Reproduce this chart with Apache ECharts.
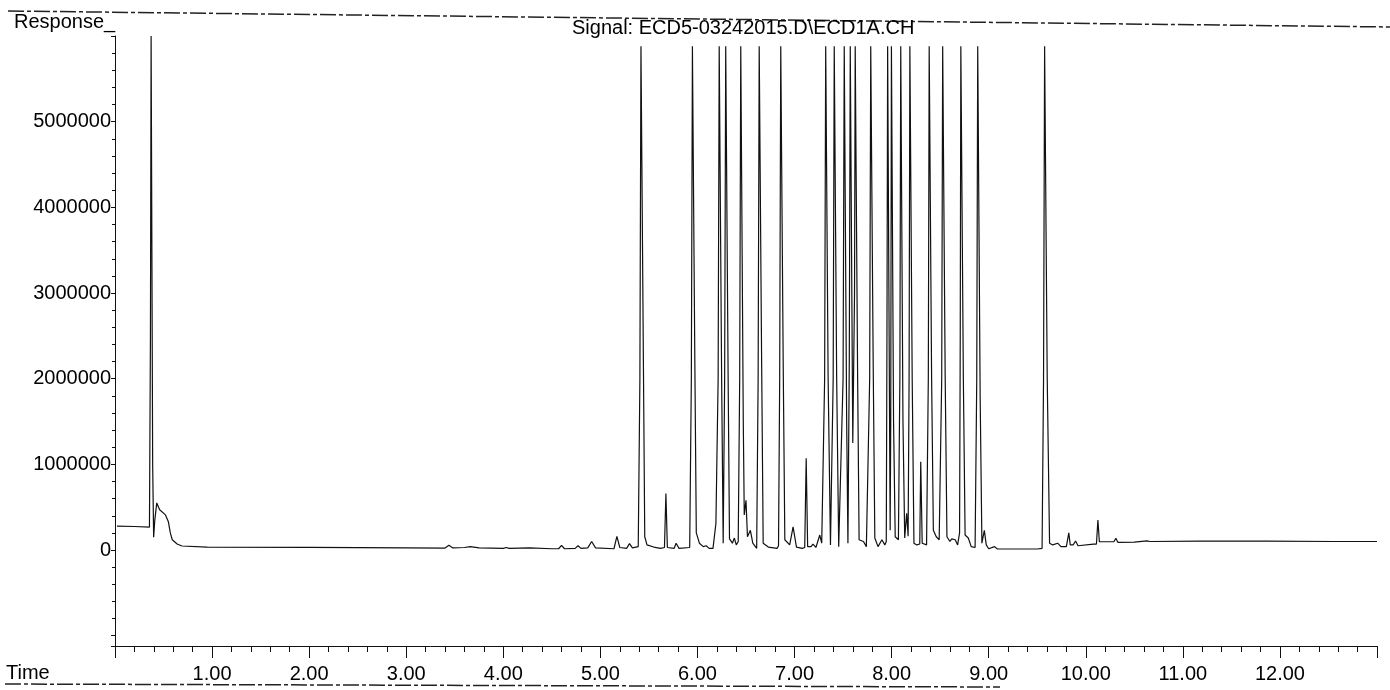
<!DOCTYPE html>
<html>
<head>
<meta charset="utf-8">
<script src="https://cdn.jsdelivr.net/npm/echarts@6/dist/echarts.min.js"></script>
<style>
html,body{margin:0;padding:0;background:#fff;}
#chart{width:1390px;height:690px;}
</style>
</head>
<body>
<div id="chart"></div>
<script>
// Retention time (min) / response pairs
var traceSolvent = [
  [0.02,280000],[0.20,275000],[0.355,268000],[0.365,2500000],[0.372,6000000],[0.379,6000000],
  [0.388,1000000],[0.398,150000],[0.41,350000],[0.43,550000],[0.46,470000],[0.52,410000],
  [0.55,330000],[0.57,200000],[0.59,120000],[0.64,70000],[0.69,47000],[0.95,35000],
  [2.00,30000],[3.00,25000],[3.40,23000],[3.44,55000],[3.48,25000],[3.60,30000],[3.66,40000],
  [3.75,25000],[4.00,20000],[4.03,30000],[4.06,20000],[4.27,25000],[4.50,15000],[4.57,15000],
  [4.60,55000],[4.63,15000],[4.74,20000],[4.77,50000],[4.80,20000],[4.87,25000],[4.91,100000],
  [4.95,25000],[5.14,15000],[5.17,160000],[5.20,30000],[5.27,20000],[5.30,75000],[5.33,25000],
  [5.39,40000]
];
var traceEarly = [
  [5.407,2000000],[5.418,5880000],[5.432,5880000],[5.443,2200000],[5.457,155000],[5.48,60000],
  [5.55,35000],[5.62,20000],[5.66,30000],[5.675,660000],[5.69,30000],[5.76,20000],[5.78,80000],
  [5.81,20000],[5.92,30000],
  [5.937,2000000],[5.948,5880000],[5.962,5880000],[5.973,2200000],[5.988,200000],[6.02,80000],
  [6.06,40000],[6.09,50000],[6.12,20000],[6.16,20000],[6.19,310000],
  [6.213,2000000],[6.224,5880000],[6.238,5880000],[6.249,2000000],[6.265,80000],
  [6.280,2000000],[6.291,5880000],[6.305,5880000],[6.316,2000000],[6.33,130000],[6.36,80000],
  [6.38,140000],[6.40,60000],[6.42,100000],
  [6.435,2000000],[6.446,5880000],[6.460,5880000],[6.472,1500000],[6.482,410000],[6.50,580000],
  [6.515,155000],[6.545,230000],[6.57,80000],[6.61,20000],
  [6.625,2000000],[6.636,5880000],[6.650,5880000],[6.661,2200000],[6.677,80000],[6.73,35000],
  [6.82,20000],[6.835,50000],
  [6.847,2000000],[6.858,5880000],[6.872,5880000],[6.883,2200000],[6.90,120000],[6.95,60000],
  [6.985,270000],[7.02,35000]
];
var traceMiddle = [
  [7.08,20000],[7.105,30000],[7.12,1070000],[7.135,40000],[7.17,40000],[7.19,70000],[7.22,30000],
  [7.26,175000],[7.28,80000],[7.297,90000],
  [7.310,2000000],[7.321,5880000],[7.335,5880000],[7.346,2000000],[7.37,60000],
  [7.398,2000000],[7.409,5880000],[7.423,5880000],[7.434,2000000],[7.455,40000],
  [7.500,2000000],[7.512,5880000],[7.526,5880000],[7.537,1500000],[7.55,80000],
  [7.564,2200000],[7.574,5880000],[7.588,5880000],[7.600,1250000],
  [7.618,3000000],[7.625,5880000],[7.639,5880000],[7.650,2000000],[7.665,120000],[7.71,100000],
  [7.74,40000],[7.76,40000],
  [7.774,2000000],[7.785,5880000],[7.799,5880000],[7.810,2200000],[7.827,140000],[7.86,40000],
  [7.90,120000],[7.93,60000],[7.945,100000],
  [7.952,2500000],[7.959,5880000],[7.971,5880000],[7.979,1500000],[7.985,230000],
  [7.991,1500000],[7.998,5880000],[8.011,5880000],[8.020,1500000],[8.037,155000],[8.07,120000],
  [8.085,2000000],[8.094,5880000],[8.107,5880000],[8.117,1500000],[8.135,140000],[8.155,430000],
  [8.17,160000],
  [8.180,2000000],[8.188,5880000],[8.202,5880000],[8.212,2000000],[8.23,80000],[8.26,60000],
  [8.29,70000],[8.30,1030000],[8.315,80000],[8.36,60000],
  [8.378,2000000],[8.387,5880000],[8.401,5880000],[8.412,2000000],[8.43,230000],[8.46,155000],
  [8.49,120000],
  [8.516,2000000],[8.526,5880000],[8.540,5880000],[8.552,2000000],[8.57,155000],[8.60,100000],
  [8.62,130000],[8.655,120000],[8.68,60000],[8.70,200000],
  [8.707,2500000],[8.713,5880000],[8.727,5880000],[8.739,2000000],[8.757,175000],[8.79,140000],
  [8.82,40000],[8.86,30000],
  [8.877,2000000],[8.887,5880000],[8.901,5880000],[8.912,1800000],[8.93,80000],[8.955,230000],
  [8.975,60000]
];
var traceLate = [
  [9.00,15000],[9.06,40000],[9.09,12000],[9.50,12000],[9.55,20000],
  [9.565,2000000],[9.576,5880000],[9.592,5880000],[9.603,2000000],[9.627,80000],[9.66,60000],
  [9.71,80000],[9.745,40000],[9.80,40000],[9.825,200000],[9.84,60000],[9.87,60000],
  [9.895,105000],[9.92,50000],[10.08,70000],[10.11,70000],[10.125,350000],[10.14,97000],
  [10.29,97000],[10.31,137000],[10.33,90000],[10.50,92000],[10.63,108000],[10.66,100000],
  [11.18,105000],[11.86,104000],[12.55,100000],[13.00,100000]
];
var xLabelValues = [1,2,3,4,5,6,7,8,9,10,11,12];
var yLabelValues = [0,1000000,2000000,3000000,4000000,5000000];

var trace = traceSolvent.concat(traceEarly, traceMiddle, traceLate);
var FONT = '"Liberation Sans", Arial, sans-serif';
var ink = '#111';

var chart = echarts.init(document.getElementById('chart'), null, {renderer: 'canvas'});
chart.setOption({
  animation: false,
  backgroundColor: '#fff',
  grid: {left: 115, top: 36, width: 1262, height: 610, containLabel: false},
  xAxis: {
    type: 'value', min: 0, max: 13, interval: 1,
    axisLine: {show: true, onZero: false, lineStyle: {color: ink, width: 1}},
    axisTick: {show: true, length: 12, lineStyle: {color: ink}},
    minorTick: {show: true, splitNumber: 5, length: 6, lineStyle: {color: ink}},
    splitLine: {show: false},
    axisLabel: {
      margin: 18, color: '#000', fontSize: 20, fontFamily: FONT,
      formatter: function (v) {
        for (var i = 0; i < xLabelValues.length; i++) {
          if (Math.abs(v - xLabelValues[i]) < 1e-6) return xLabelValues[i].toFixed(2);
        }
        return '';
      }
    }
  },
  yAxis: {
    type: 'value', min: -1120000, max: 6000000, splitNumber: 7,
    axisLine: {show: true, onZero: false, lineStyle: {color: ink, width: 1}},
    axisTick: {show: true, length: 4, lineStyle: {color: ink}},
    minorTick: {show: true, splitNumber: 5, length: 3, lineStyle: {color: ink}},
    splitLine: {show: false},
    axisLabel: {
      margin: 4, color: '#000', fontSize: 20, fontFamily: FONT,
      formatter: function (v) {
        for (var i = 0; i < yLabelValues.length; i++) {
          if (Math.abs(v - yLabelValues[i]) < 1) return String(yLabelValues[i]);
        }
        return '';
      }
    }
  },
  series: [{
    type: 'line', data: trace, showSymbol: false, symbol: 'none', clip: true,
    lineStyle: {color: ink, width: 1.2}
  }],
  graphic: [
    {type: 'line', shape: {x1: 8, y1: 11, x2: 1390, y2: 27}, silent: true,
      style: {stroke: '#222', lineWidth: 1.5, lineDash: [16, 3, 4, 3]}},
    {type: 'line', shape: {x1: 5, y1: 684, x2: 1000, y2: 687}, silent: true,
      style: {stroke: '#222', lineWidth: 1.5, lineDash: [16, 3, 4, 3]}},
    {type: 'text', left: 14, top: 12, silent: true,
      style: {text: 'Response_', fill: '#000', font: '20px ' + FONT}},
    {type: 'text', left: 572, top: 18, silent: true,
      style: {text: 'Signal: ECD5-03242015.D\\ECD1A.CH', fill: '#000', font: '20px ' + FONT}},
    {type: 'text', left: 6, top: 663, silent: true,
      style: {text: 'Time', fill: '#000', font: '20px ' + FONT}}
  ]
});
</script>
</body>
</html>
